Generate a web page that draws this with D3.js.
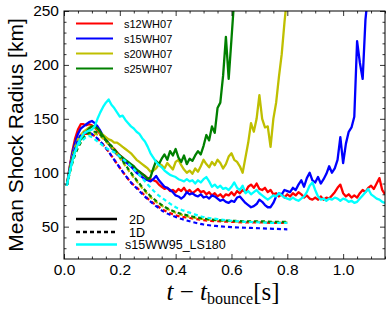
<!DOCTYPE html>
<html>
<head>
<meta charset="utf-8">
<script src="https://cdn.jsdelivr.net/npm/d3@7/dist/d3.min.js"></script>
<style>
  body { margin: 0; background: #fff; }
</style>
</head>
<body>
<div id="chart"></div>
<script>
// sample times (s) of the 2D runs
var t2D = [0.01,0.02,0.03,0.04,0.05,0.06,0.07,0.08,0.09,0.10,
           0.11,0.12,0.13,0.14,0.15,0.16,0.17,0.18,0.19,0.20,
           0.21,0.22,0.23,0.24,0.25,0.26,0.27,0.28,0.29,0.30,
           0.31,0.32,0.33,0.34,0.35,0.36,0.37,0.38,0.39,0.40,
           0.41,0.42,0.43,0.44,0.45,0.46,0.47,0.48,0.49,0.50,
           0.51,0.52,0.53,0.54,0.55,0.56,0.57,0.58,0.59,0.60,
           0.61,0.62,0.63,0.64,0.65,0.66,0.67,0.68,0.69,0.70,
           0.71,0.72,0.73,0.74,0.75,0.76,0.77,0.78,0.79,0.80,
           0.81,0.82,0.83,0.84,0.85,0.86,0.87,0.88,0.89,0.90,
           0.91,0.92,0.93,0.94,0.95,0.96,0.97,0.98,0.99,1.00,
           1.01,1.02,1.03,1.04,1.05,1.06,1.07,1.08,1.09,1.10,
           1.11,1.12,1.13,1.14,1.15];

// mean shock radius (km), 2D runs
var s12_2D = [88,105,120,132,140,145,145,144,145,144,
              142,139,136,133,130,127,124,122,119,116,
              114,111,109,106,104,102,101,99,97,95,
              94,93,92,89,87,85,86,83,84,82,
              85,83,86,82,84,81,83,85,82,83,
              80,82,79,81,78,80,77,80,79,82,
              79,83,81,84,82,87,89,86,90,85,
              84,86,82,84,80,81,78,80,77,80,
              78,81,79,82,80,77,79,76,75,77,
              75,78,75,77,76,79,82,86,89,81,
              78,80,77,79,77,81,84,82,86,88,
              85,90,95,84,80];
var s15_2D = [88,104,118,128,136,141,143,145,147,148,
              146,143,139,134,131,127,123,120,117,115,
              112,110,108,106,103,100,98,96,94,93,
              92,94,97,93,90,87,86,84,82,79,
              78,76,78,82,80,81,79,78,80,77,
              78,76,79,78,76,74,75,73,72,74,
              73,77,78,75,72,70,68,69,71,75,
              73,70,68,68,72,78,81,80,84,83,
              82,86,84,89,93,87,95,100,93,91,
              96,90,94,99,106,100,104,112,133,109,
              127,138,142,152,222,202,187,242,268];
var s20_2D = [88,103,115,124,131,135,138,140,142,143,
              142,140,137,135,133,131,130,128,128,126,
              124,122,120,118,115,112,110,108,106,104,
              101,102,104,108,107,104,109,106,103,110,
              112,107,103,100,102,99,104,101,106,112,
              108,105,110,107,112,109,104,108,115,118,
              112,110,106,100,114,128,146,138,150,172,
              150,142,143,124,150,165,189,210,240,265];
var s25_2D = [88,102,113,121,127,131,135,138,141,143,
              143,141,138,134,130,127,124,121,118,116,
              114,112,110,108,106,103,101,99,97,94,
              96,104,111,108,113,117,112,120,116,122,
              114,110,116,108,113,111,116,120,117,125,
              135,130,143,137,160,165,190,226,187,224,
              262];
var ls180_2D = [88,100,111,120,127,132,136,138,139,140,
                143,150,156,161,165,168,163,160,156,152,
                153,149,146,143,141,138,136,132,129,124,
                118,114,110,107,105,102,100,98,97,96,
                94,93,92,94,92,93,90,93,91,94,
                96,92,87,89,86,88,85,86,84,87,
                91,86,84,88,81,83,80,82,84,81,
                79,77,75,77,79,78,81,79,77,76,
                75,77,75,74,76,78,82,88,91,84,
                78,75,76,74,76,75,77,76,74,76,
                75,73,74,72,73,76,79,82,85,80,
                78,76,75,73,72];

// sample times (s) of the 1D runs
var t1D = [0.01,0.03,0.05,0.07,0.09,0.11,0.13,0.15,0.18,0.21,0.24,0.27,
           0.30,0.33,0.36,0.40,0.45,0.50,0.55,0.60,0.65,0.70,0.75,0.80];
var s12_1D = [88,113,129,136,136,134,129,123,112,101,91,84,76,70,65,60.5,58,56,55,54.5,54,54,53.5,53.5];
var s15_1D = [88,113,130,137,137,134,129,123,112,101,91,83,75.5,69,63.5,59,55,52,50.5,49.5,49,48.5,48,47.5];
var s20_1D = [88,110,124,132,136,136,134,129,121,110,99,89,80,73,68,63,59,57,56,55,54.5,54.5,54,54];
var s25_1D = [88,109,123,132,137,138,135,130,122,111,100,90,81,74,68.5,63.5,60,57.5,56,55.5,55,55,54.5,54.5];
var ls180_1D = [88,111,125,131,134,131,127,123,119,113,106,98,89,81,75,68,63,59,57,55.5,54.5,54,53.5,53.5];

var modelNames = ["s12WH07", "s15WH07", "s20WH07", "s25WH07"];
var modelColors = ["#ff0000", "#0000ff", "#bfbf00", "#008000"];
var lsName = "s15WW95_LS180";
var lsColor = "#00ffff";

var xMajor = [0, 0.2, 0.4, 0.6, 0.8, 1.0];
var xMinor = [0.05,0.1,0.15,0.25,0.3,0.35,0.45,0.5,0.55,0.65,0.7,0.75,0.85,0.9,0.95,1.05,1.1,1.15];
var yMajor = [50, 100, 150, 200, 250];
var yMinor = [30,40,60,70,80,90,110,120,130,140,160,170,180,190,210,220,230,240];

var W = 390, H = 313;
var pL = 64, pR = 385, pT = 11, pB = 259;
var sans = "'Liberation Sans', Arial, Helvetica, sans-serif";

var svg = d3.select("#chart").append("svg")
    .attr("width", W)
    .attr("height", H)
    .style("background", "#fff");

var x = d3.scaleLinear().domain([0, 1.15]).range([pL, pR]);
var y = d3.scaleLinear().domain([20, 250]).range([pB, pT]);

svg.append("clipPath").attr("id", "plotclip")
  .append("rect")
    .attr("x", pL).attr("y", pT)
    .attr("width", pR - pL).attr("height", pB - pT);

var plot = svg.append("g").attr("clip-path", "url(#plotclip)");

function pairs(ts, rs) {
  return rs.map(function (r, i) { return [ts[i], r]; });
}

var line2D = d3.line()
    .x(function (d) { return x(d[0]); })
    .y(function (d) { return y(d[1]); });

var line1D = d3.line()
    .x(function (d) { return x(d[0]); })
    .y(function (d) { return y(d[1]); })
    .curve(d3.curveMonotoneX);

var runs2D = [s12_2D, s15_2D, s20_2D, s25_2D];
var runs1D = [s12_1D, s15_1D, s20_1D, s25_1D];

// 2D runs
runs2D.forEach(function (rs, i) {
  plot.append("path")
      .datum(pairs(t2D, rs))
      .attr("d", line2D)
      .attr("fill", "none")
      .attr("stroke", modelColors[i])
      .attr("stroke-width", 2.3)
      .attr("stroke-linejoin", "round");
});

// 1D runs (dashed)
runs1D.forEach(function (rs, i) {
  plot.append("path")
      .datum(pairs(t1D, rs))
      .attr("d", line1D)
      .attr("fill", "none")
      .attr("stroke", modelColors[i])
      .attr("stroke-width", 2.2)
      .attr("stroke-dasharray", "4,3");
});

// LS180 on top
plot.append("path")
    .datum(pairs(t2D, ls180_2D))
    .attr("d", line2D)
    .attr("fill", "none")
    .attr("stroke", lsColor)
    .attr("stroke-width", 2.3)
    .attr("stroke-linejoin", "round");

plot.append("path")
    .datum(pairs(t1D, ls180_1D))
    .attr("d", line1D)
    .attr("fill", "none")
    .attr("stroke", lsColor)
    .attr("stroke-width", 2.2)
    .attr("stroke-dasharray", "4,3");

// axes, ticks pointing inward on all four sides
function styleAxis(g) {
  g.select(".domain").remove();
  g.selectAll("line").attr("stroke", "#000").attr("stroke-width", 0.8);
  g.selectAll("text").attr("font-family", sans).attr("font-size", 15.5).attr("fill", "#000");
}

svg.append("g").attr("transform", "translate(0," + pB + ")")
    .call(d3.axisBottom(x).tickValues(xMajor).tickFormat(d3.format(".1f"))
      .tickSizeInner(-5).tickSizeOuter(0).tickPadding(5))
    .call(styleAxis);
svg.append("g").attr("transform", "translate(0," + pB + ")")
    .call(d3.axisBottom(x).tickValues(xMinor).tickFormat("").tickSizeInner(-2.5).tickSizeOuter(0))
    .call(styleAxis);
svg.append("g").attr("transform", "translate(0," + pT + ")")
    .call(d3.axisTop(x).tickValues(xMajor).tickFormat("").tickSizeInner(-5).tickSizeOuter(0))
    .call(styleAxis);
svg.append("g").attr("transform", "translate(0," + pT + ")")
    .call(d3.axisTop(x).tickValues(xMinor).tickFormat("").tickSizeInner(-2.5).tickSizeOuter(0))
    .call(styleAxis);

svg.append("g").attr("transform", "translate(" + pL + ",0)")
    .call(d3.axisLeft(y).tickValues(yMajor).tickFormat(d3.format("d"))
      .tickSizeInner(-5).tickSizeOuter(0).tickPadding(5))
    .call(styleAxis);
svg.append("g").attr("transform", "translate(" + pL + ",0)")
    .call(d3.axisLeft(y).tickValues(yMinor).tickFormat("").tickSizeInner(-2.5).tickSizeOuter(0))
    .call(styleAxis);
svg.append("g").attr("transform", "translate(" + pR + ",0)")
    .call(d3.axisRight(y).tickValues(yMajor).tickFormat("").tickSizeInner(-5).tickSizeOuter(0))
    .call(styleAxis);
svg.append("g").attr("transform", "translate(" + pR + ",0)")
    .call(d3.axisRight(y).tickValues(yMinor).tickFormat("").tickSizeInner(-2.5).tickSizeOuter(0))
    .call(styleAxis);

// frame
svg.append("rect")
    .attr("x", pL).attr("y", pT)
    .attr("width", pR - pL).attr("height", pB - pT)
    .attr("fill", "none").attr("stroke", "#000").attr("stroke-width", 1);

// model legend (top left)
var legTop = svg.append("g");
modelNames.forEach(function (name, i) {
  var ly = 23.5 + i * 15;
  legTop.append("line")
      .attr("x1", 76).attr("x2", 113).attr("y1", ly).attr("y2", ly)
      .attr("stroke", modelColors[i]).attr("stroke-width", 2.2);
  legTop.append("text")
      .attr("x", 124).attr("y", ly + 4)
      .attr("font-family", sans).attr("font-size", 11)
      .text(name);
});

// dimension legend (bottom left)
var legBot = svg.append("g");
var botItems = [
  { label: "2D", color: "#000", dash: null, y: 219, tx: 129 },
  { label: "1D", color: "#000", dash: "4,3", y: 232, tx: 129 },
  { label: lsName, color: lsColor, dash: null, y: 244.5, tx: 125 }
];
botItems.forEach(function (d) {
  legBot.append("line")
      .attr("x1", 76).attr("x2", 117).attr("y1", d.y).attr("y2", d.y)
      .attr("stroke", d.color).attr("stroke-width", 2.4)
      .attr("stroke-dasharray", d.dash);
  legBot.append("text")
      .attr("x", d.tx).attr("y", d.y + 4.5)
      .attr("font-family", sans).attr("font-size", 12.5)
      .text(d.label);
});

// axis titles
svg.append("text")
    .attr("transform", "translate(23,135) rotate(-90)")
    .attr("text-anchor", "middle")
    .attr("font-family", sans)
    .attr("font-size", 21)
    .text("Mean Shock Radius [km]");

var xt = svg.append("text")
    .attr("x", 223).attr("y", 300)
    .attr("text-anchor", "middle")
    .attr("font-family", "'Liberation Serif', 'DejaVu Serif', serif")
    .attr("font-size", 25);
xt.append("tspan").attr("font-style", "italic").text("t");
xt.append("tspan").text(" \u2212 ");
xt.append("tspan").attr("font-style", "italic").text("t");
xt.append("tspan").attr("font-size", 16).attr("dy", 4).text("bounce");
xt.append("tspan").attr("dy", -4).text("[s]");
</script>
</body>
</html>
